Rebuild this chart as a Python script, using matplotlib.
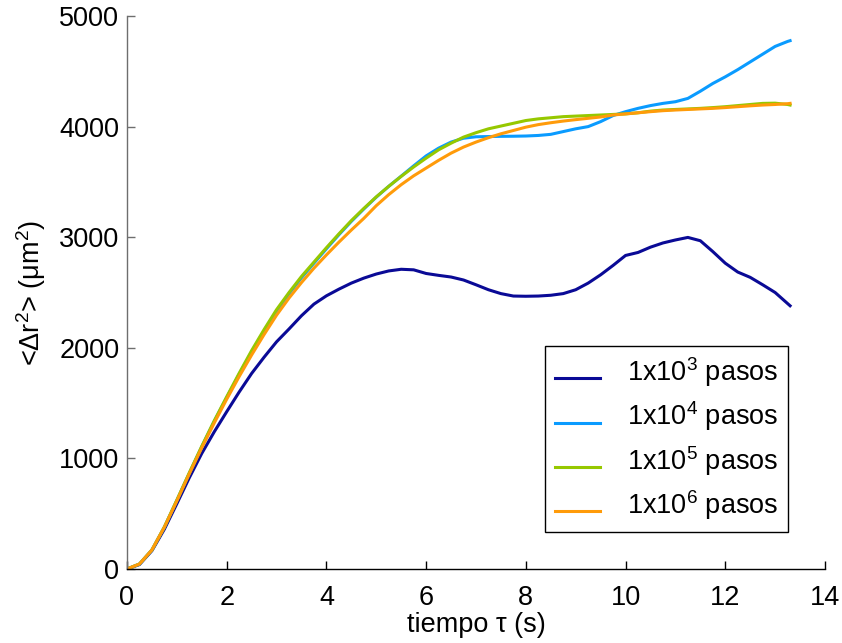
import matplotlib
matplotlib.use("Agg")
import matplotlib.pyplot as plt
from matplotlib.legend_handler import HandlerLine2D

plt.rcParams['font.family'] = ['Liberation Sans', 'DejaVu Sans']
plt.rcParams['mathtext.fontset'] = 'custom'
plt.rcParams['mathtext.rm'] = 'Liberation Sans'
plt.rcParams['mathtext.it'] = 'Liberation Sans'

# time lag (s)
tau = [0, 0.25, 0.5, 0.75, 1, 1.25, 1.5, 1.75, 2, 2.25, 2.5, 2.75, 3, 3.25, 3.5, 3.75,
       4, 4.25, 4.5, 4.75, 5, 5.25, 5.5, 5.75, 6, 6.25, 6.5, 6.75, 7, 7.25, 7.5, 7.75,
       8, 8.25, 8.5, 8.75, 9, 9.25, 9.5, 9.75, 10, 10.25, 10.5, 10.75, 11, 11.25, 11.5, 11.75,
       12, 12.25, 12.5, 12.75, 13, 13.25, 13.3]

# mean squared displacement (um^2) for each number of steps
msd_1e3 = [0, 40, 165, 360, 590, 825, 1045, 1240, 1422, 1600, 1768, 1915, 2054, 2170, 2290, 2395,
           2470, 2530, 2585, 2630, 2667, 2695, 2710, 2705, 2672, 2655, 2640, 2613, 2570, 2525, 2490, 2468,
           2466, 2468, 2475, 2490, 2525, 2585, 2660, 2745, 2835, 2862, 2910, 2948, 2975, 2998, 2968, 2870,
           2765, 2685, 2637, 2570, 2500, 2400, 2380]
msd_1e4 = [0, 45, 172, 378, 620, 865, 1105, 1335, 1550, 1760, 1962, 2152, 2332, 2488, 2633, 2765,
           2895, 3022, 3143, 3255, 3362, 3460, 3552, 3645, 3735, 3805, 3860, 3895, 3908, 3910, 3912, 3913,
           3915, 3920, 3930, 3955, 3980, 4000, 4045, 4100, 4135, 4165, 4190, 4210, 4225, 4255, 4320, 4390,
           4450, 4515, 4585, 4655, 4725, 4770, 4777]
msd_1e5 = [0, 45, 172, 380, 623, 870, 1110, 1340, 1557, 1770, 1975, 2165, 2345, 2500, 2645, 2775,
           2905, 3030, 3150, 3260, 3365, 3460, 3550, 3635, 3715, 3790, 3850, 3905, 3945, 3980, 4005, 4030,
           4055, 4070, 4080, 4090, 4095, 4100, 4105, 4110, 4115, 4125, 4140, 4150, 4155, 4160, 4165, 4172,
           4180, 4190, 4200, 4210, 4212, 4200, 4195]
msd_1e6 = [0, 45, 172, 378, 615, 860, 1095, 1320, 1535, 1740, 1935, 2120, 2295, 2450, 2590, 2720,
           2840, 2955, 3065, 3170, 3285, 3385, 3475, 3555, 3625, 3695, 3760, 3815, 3860, 3900, 3935, 3965,
           3995, 4018, 4035, 4050, 4063, 4075, 4087, 4105, 4115, 4125, 4135, 4144, 4150, 4155, 4160, 4165,
           4172, 4180, 4188, 4195, 4200, 4207, 4210]

labels = ['1x10$^3$ pasos', '1x10$^4$ pasos', '1x10$^5$ pasos', '1x10$^6$ pasos']
colors = ['#0a0a96', '#0a9bff', '#96c800', '#ff9b0a']

FS = 19.5


class LoweredLine(HandlerLine2D):
    """Legend line drawn level with the main text rather than the superscript."""
    def create_artists(self, legend, orig_handle, xdescent, ydescent,
                       width, height, fontsize, trans):
        artists = super().create_artists(legend, orig_handle, xdescent, ydescent,
                                         width, height, fontsize, trans)
        for a in artists:
            a.set_ydata([y - 0.25 * fontsize for y in a.get_ydata()])
        return artists


fig = plt.figure(figsize=(8.42, 6.43), dpi=100)
ax = fig.add_axes([0.1508, 0.1151, 0.829, 0.86])

lines = []
for y, lab, c in zip([msd_1e3, msd_1e4, msd_1e5, msd_1e6], labels, colors):
    ln, = ax.plot(tau, y, color=c, lw=2.2, label=lab, solid_joinstyle='round')
    lines.append(ln)

ax.set_xlim(0, 14)
ax.set_ylim(0, 5000)
ax.set_xticks(range(0, 15, 2))
ax.set_yticks(range(0, 5001, 1000))

for side in ['top', 'right']:
    ax.spines[side].set_visible(False)
ax.spines['left'].set_color('#6e6e6e')
ax.spines['bottom'].set_color('black')
for side in ['left', 'bottom']:
    ax.spines[side].set_linewidth(1.0)

ax.tick_params(direction='in', length=6, width=1, labelsize=FS, labelcolor='black')
ax.tick_params(axis='y', pad=5.5, color='#6e6e6e')
ax.tick_params(axis='x', pad=11.5, color='black')

ax.set_xlabel('tiempo τ (s)', fontsize=FS, labelpad=1)
ax.set_ylabel('<Δr$^2$> (μm$^2$)', fontsize=FS, labelpad=8)

leg = ax.legend(handler_map={ln: LoweredLine() for ln in lines},
                loc='lower right', bbox_to_anchor=(0.947, 0.067), fontsize=FS,
                frameon=True, fancybox=False, edgecolor='black', framealpha=1,
                handlelength=1.66, labelspacing=0.39, borderpad=0.36,
                handletextpad=1.0, borderaxespad=0)
leg.get_frame().set_linewidth(1.0)

fig.savefig('out.png', dpi=100)
